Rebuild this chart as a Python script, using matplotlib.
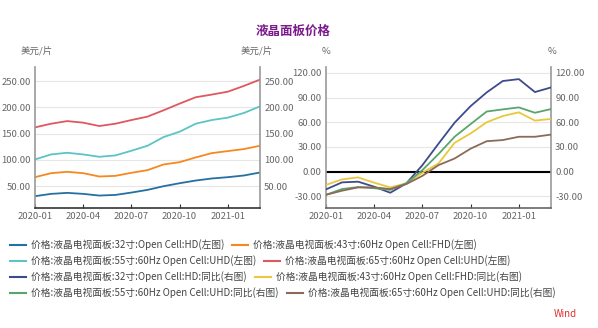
import matplotlib
matplotlib.use("Agg")
import matplotlib.pyplot as plt
from matplotlib.lines import Line2D

plt.rcParams['font.family'] = ['Noto Sans CJK SC', 'DejaVu Sans']

months = ["2020-01", "2020-02", "2020-03", "2020-04", "2020-05", "2020-06", "2020-07",
          "2020-08", "2020-09", "2020-10", "2020-11", "2020-12", "2021-01", "2021-02", "2021-03"]

# Left axis: prices (USD/piece)
p32 = [31, 35.4, 37.3, 35.4, 32.2, 33.4, 37.9, 43, 50, 55.7, 60.8, 64.7, 67.2, 70.4, 76.1]
p43 = [67.2, 74.8, 77.4, 74.8, 68.5, 69.7, 75.5, 80.6, 91.4, 95.8, 104.8, 113, 116.9, 120.7, 127]
p55 = [101, 110.5, 113.7, 110.5, 106, 108.6, 117.5, 127, 143.6, 153.8, 169, 176, 180.6, 189.5, 202]
p65 = [162, 169, 174, 171, 164.6, 169, 176, 182.5, 194.6, 207.3, 219.4, 224.5, 230, 241, 253]

# Right axis: YoY (%)
y32 = [-21.4, -12.9, -12.1, -18.2, -25.5, -14.1, 8, 34, 59.4, 79.6, 96.2, 110, 112.3, 96.6, 102.2]
y43 = [-16, -9.3, -6.9, -13.3, -19, -14.1, -1.2, 10, 35, 46.5, 60, 67.5, 72, 62, 64]
y55 = [-28, -21, -18.6, -20, -22, -14, 2, 21.4, 42.4, 57.8, 73, 75.6, 78, 71.5, 76]
y65 = [-28, -23, -19, -19, -21, -15, -5, 8, 16, 28, 37, 38.4, 42.4, 42.4, 45]

left_ticks = [50, 100, 150, 200, 250]
right_ticks = [-30, 0, 30, 60, 90, 120]
xtick_idx = [0, 3, 6, 9, 12]

labels = [
    "价格:液晶电视面板:32寸:Open Cell:HD(左图)",
    "价格:液晶电视面板:43寸:60Hz Open Cell:FHD(左图)",
    "价格:液晶电视面板:55寸:60Hz Open Cell:UHD(左图)",
    "价格:液晶电视面板:65寸:60Hz Open Cell:UHD(左图)",
    "价格:液晶电视面板:32寸:Open Cell:HD:同比(右图)",
    "价格:液晶电视面板:43寸:60Hz Open Cell:FHD:同比(右图)",
    "价格:液晶电视面板:55寸:60Hz Open Cell:UHD:同比(右图)",
    "价格:液晶电视面板:65寸:60Hz Open Cell:UHD:同比(右图)",
]
colors = ["#2470a0", "#f5891f", "#5bc4c6", "#e0575f",
          "#3d4b8c", "#e9c83e", "#5aa56c", "#8b6b58"]

W, H = 598, 328
fig = plt.figure(figsize=(W / 100, H / 100), dpi=100)
fig.patch.set_facecolor("white")

x = list(range(len(months)))
tick_color = "#666666"
fs = 6.8


def style_axes(ax, ticks, ylim):
    ax.set_xlim(0, len(months) - 1)
    ax.set_ylim(*ylim)
    ax.set_yticks(ticks)
    ax.set_yticklabels([f"{t:.2f}" for t in ticks])
    ax.set_xticks(xtick_idx)
    ax.set_xticklabels([months[i] for i in xtick_idx])
    ax.grid(axis="y", color="#e6e6e6", lw=0.8)
    ax.set_axisbelow(True)
    ax.tick_params(axis="y", length=0, labelsize=fs, labelcolor=tick_color, pad=3)
    ax.tick_params(axis="x", length=3, direction="in", labelsize=fs, labelcolor=tick_color,
                   color="#333333", pad=3)
    for s in ["left", "right"]:
        ax.spines[s].set_color("#999999")
        ax.spines[s].set_linewidth(1.2)
    ax.spines["top"].set_visible(False)
    ax.spines["bottom"].set_color("#333333")
    ax.spines["bottom"].set_linewidth(1.2)
    twin = ax.twinx()
    twin.set_ylim(*ylim)
    twin.set_yticks(ticks)
    twin.set_yticklabels([f"{t:.2f}" for t in ticks])
    twin.tick_params(axis="y", length=0, labelsize=fs, labelcolor=tick_color, pad=3)
    for s in twin.spines.values():
        s.set_visible(False)
    return twin


axL = fig.add_axes([35 / W, 1 - 208 / H, 225 / W, 141 / H])
style_axes(axL, left_ticks, (8.5, 277))
for vals, c in zip([p32, p43, p55, p65], colors[:4]):
    axL.plot(x, vals, color=c, lw=1.3)

axR = fig.add_axes([326 / W, 1 - 208 / H, 225 / W, 141 / H])
style_axes(axR, right_ticks, (-44, 127))
axR.axhline(0, color="black", lw=1.5, zorder=1)
axR.spines["bottom"].set_color("#666666")
for vals, c in zip([y32, y43, y55, y65], colors[4:]):
    axR.plot(x, vals, color=c, lw=1.3, zorder=3)

# Title and units
fig.text(293 / W, 1 - 31 / H, "液晶面板价格", ha="center", va="center",
         fontsize=9, fontweight="bold", color="#7a1b8c")
for xx, t, ha in [(21, "美元/片", "left"), (273, "美元/片", "right"),
                  (326, "%", "center"), (552, "%", "center")]:
    fig.text(xx / W, 1 - 51 / H, t, ha=ha, va="center", fontsize=fs, color=tick_color)

# Legend (manual, two items per row)
fig.canvas.draw()
renderer = fig.canvas.get_renderer()
rows_y = [244.5, 261, 277, 293]
for r, ry in enumerate(rows_y):
    xs = 10
    for k in range(2):
        i = r * 2 + k
        yy = 1 - ry / H
        fig.add_artist(Line2D([xs / W, (xs + 16) / W], [yy, yy], color=colors[i], lw=1.5,
                              transform=fig.transFigure))
        t = fig.text((xs + 21) / W, yy, labels[i], ha="left", va="center",
                     fontsize=7.0, color="#444444")
        bb = t.get_window_extent(renderer)
        xs = bb.x1 + 8

fig.text(577 / W, 1 - 314 / H, "Wind", ha="right", va="center", fontsize=7, color="#e03030")

fig.savefig("out.png", dpi=100, facecolor="white")
